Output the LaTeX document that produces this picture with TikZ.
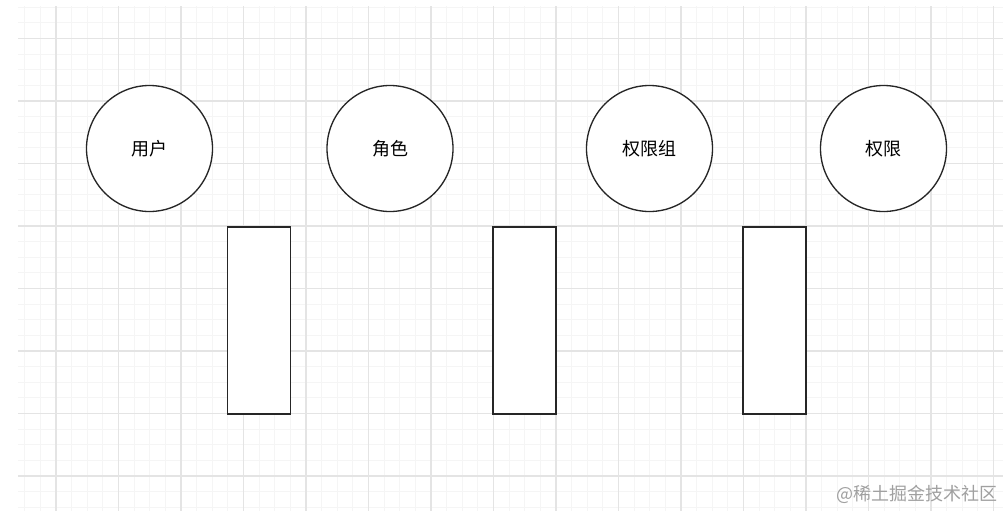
\documentclass[tikz,border=0pt]{standalone}
\usepackage{fontspec}
\setmainfont{Noto Sans CJK SC}
\usepackage{tikz}
\usetikzlibrary{positioning}

\definecolor{minorgrid}{HTML}{F5F5F5}
\definecolor{majorgrid}{HTML}{E4E4E4}
\definecolor{edgegray}{HTML}{262626}
\definecolor{markgray}{HTML}{A0A0A0}

\tikzset{
  minorline/.style={color=minorgrid, line width=0.75pt},
  majorline/.style={color=majorgrid, line width=0.9pt},
  entity/.style={circle, draw=edgegray, fill=white, line width=1pt, inner sep=0pt,
    minimum size=94.5pt, font=\fontsize{13.5}{15}\selectfont},
  linktable/.style={rectangle, draw=edgegray, fill=white, line width=1pt, inner sep=0pt,
    minimum width=47.25pt, minimum height=140.25pt}
}

\begin{document}
\begin{tikzpicture}[x=0.75pt, y=-0.75pt]
\useasboundingbox[fill=white] (0,0) rectangle (1003,511);
%%%%% Grid %%%%%
\foreach \k in {-2,...,60} \draw[minorline] ({56+15.625*\k},6) -- ({56+15.625*\k},511);
\foreach \k in {-2,...,30} \draw[minorline] (18,{38.5+15.625*\k}) -- (1003,{38.5+15.625*\k});
\foreach \k in {0,...,15} \draw[majorline] ({56+62.5*\k},6) -- ({56+62.5*\k},511);
\foreach \k in {0,...,7} \draw[majorline] (18,{38.5+62.5*\k}) -- (1003,{38.5+62.5*\k});
%%%%% Entities %%%%%
\node[entity] (user) at (149.5,148.5) {用户};
\node[entity] (role) at (390,148.5) {角色};
\node[entity] (permgroup) at (649.5,148.5) {权限组};
\node[entity] (perm) at (883.5,148.5) {权限};
%%%%% Link tables %%%%%
\node[linktable] (userrole) at (259,320.5) {};
\node[linktable] (rolegroup) at (524.5,320.5) {};
\node[linktable] (groupperm) at (774.5,320.5) {};
%%%%% Watermark %%%%%
\node[anchor=east, text=markgray, font=\fontsize{13.5}{15}\selectfont, inner sep=0pt] (mark) at (998,494) {@稀土掘金技术社区};
\end{tikzpicture}
\end{document}
